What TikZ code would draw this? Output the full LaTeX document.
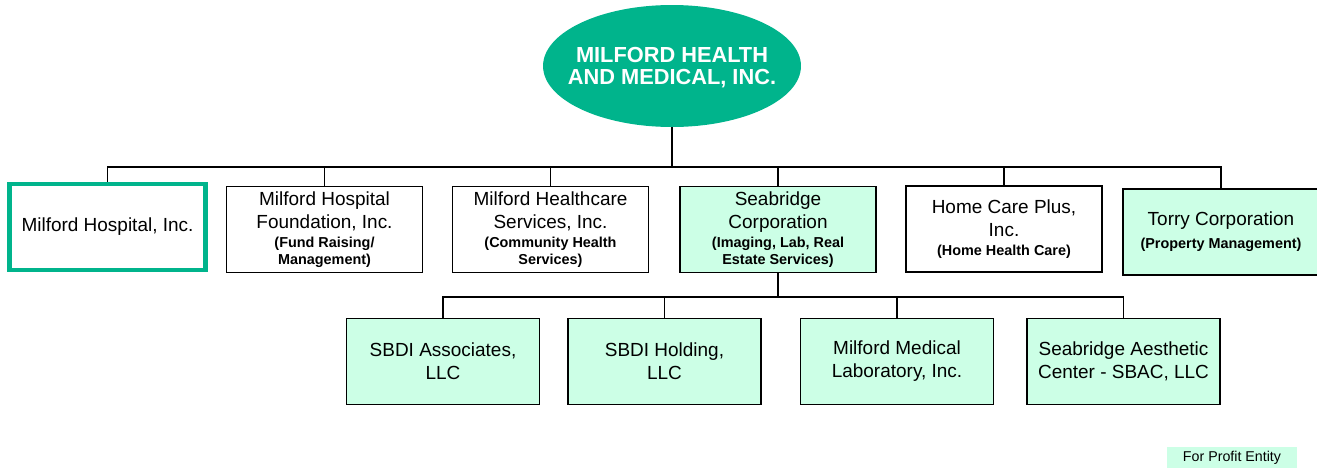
\documentclass[tikz,border=0pt]{standalone}
\usepackage{fontspec}
\setmainfont{Liberation Sans}
\usetikzlibrary{positioning,shapes.geometric}

\definecolor{mhgreen}{RGB}{0,180,140}
\definecolor{mhlight}{RGB}{204,255,230}

\newcommand{\subline}[1]{{\fontsize{8.2}{9.6}\selectfont\bfseries #1}}

\begin{document}
\begin{tikzpicture}[x=0.02cm,y=-0.02cm,
    org/.style={draw=black,line width=0.8pt,minimum width=3.92cm,minimum height=1.72cm,
      align=center,inner sep=2pt,font=\fontsize{10.8}{13}\selectfont},
    entity/.style={org,fill=mhlight},
    small/.style={entity,minimum width=3.86cm},
    link/.style={line width=0.85pt}]
  \useasboundingbox (0,0) rectangle (1317,467);

  % Parent
  \node[ellipse,fill=mhgreen,minimum width=5.16cm,minimum height=2.44cm,inner sep=0pt] (mhm) at (672,66) {};
  \node[text=white,align=center,inner sep=0pt,font=\fontsize{12.4}{12.8}\selectfont\bfseries]
    (mhmtext) at ([yshift=-0.03cm]mhm.center) {MILFORD HEALTH\\AND MEDICAL, INC.};

  % First level
  \node[org,draw=mhgreen,line width=2.3pt] (hosp) at (107.5,227) {Milford Hospital, Inc.};
  \node[org] (fund) at (324.5,229.5) {Milford Hospital\\Foundation, Inc.\\[-1.8pt]
    \subline{(Fund Raising/}\\[-3.5pt]\subline{Management)}};
  \node[org] (hcs) at (550.5,229.5) {Milford Healthcare\\Services, Inc.\\[-1.8pt]
    \subline{(Community Health}\\[-3.5pt]\subline{Services)}};
  \node[entity] (sea) at (778,229.5) {Seabridge\\Corporation\\[-1.8pt]
    \subline{(Imaging, Lab, Real}\\[-3.5pt]\subline{Estate Services)}};
  \node[org] (hcp) at (1004,229) {Home Care Plus,\\Inc.\\[-2pt]\subline{(Home Health Care)}};
  \node[entity] (torry) at (1221,232) {Torry Corporation\\[0pt]\subline{(Property Management)}};

  % Seabridge subsidiaries
  \node[small] (sbdia) at (443,361.5) {SBDI Associates,\\LLC};
  \node[small] (sbdih) at (664.5,361.5) {SBDI Holding,\\LLC};
  \node[small] (mml) at (897,361.5) {Milford Medical\\Laboratory, Inc.};
  \node[small] (sbac) at (1123.5,361.5) {Seabridge Aesthetic\\Center - SBAC, LLC};

  % Connectors
  \coordinate (bus1) at (672,167);
  \coordinate (bus2) at (778,297);
  \draw[link] (mhm.south) -- (bus1);
  \foreach \n in {hosp,fund,hcs,sea,hcp,torry}
    \draw[link] (\n.north) |- (bus1);
  \draw[link] (sea.south) -- (bus2);
  \foreach \n in {sbdia,sbdih,mml,sbac}
    \draw[link] (\n.north) |- (bus2);

  % Legend
  \node[fill=mhlight,minimum width=2.6cm,minimum height=0.42cm,inner sep=0pt,
    font=\fontsize{8.1}{9}\selectfont] (key) at (1232,457.5) {For Profit Entity};
\end{tikzpicture}
\end{document}
